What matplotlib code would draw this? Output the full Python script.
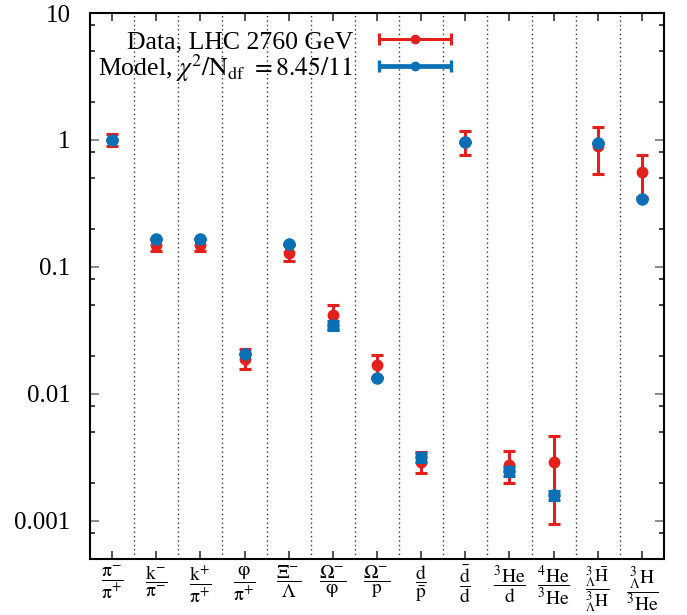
import numpy as np
import matplotlib
matplotlib.use("Agg")
import matplotlib.pyplot as plt
from matplotlib.ticker import FixedLocator, FixedFormatter, NullFormatter
from matplotlib.legend_handler import HandlerErrorbar

plt.rcParams['font.family'] = ['Liberation Serif', 'DejaVu Serif']
plt.rcParams['mathtext.fontset'] = 'stix'

categories = [
    r'$\dfrac{\mathrm{\pi^{-}}}{\mathrm{\pi^{+}}}$',
    r'$\dfrac{\mathrm{k^{-}}}{\mathrm{\pi^{-}}}$',
    r'$\dfrac{\mathrm{k^{+}}}{\mathrm{\pi^{+}}}$',
    r'$\dfrac{\mathrm{\varphi}}{\mathrm{\pi^{+}}}$',
    r'$\dfrac{\mathrm{\Xi^{-}}}{\mathrm{\Lambda}}$',
    r'$\dfrac{\mathrm{\Omega^{-}}}{\mathrm{\varphi}}$',
    r'$\dfrac{\mathrm{\Omega^{-}}}{\mathrm{p}}$',
    r'$\dfrac{\mathrm{d}}{\bar{\mathrm{p}}}$',
    r'$\dfrac{\bar{\mathrm{d}}}{\mathrm{d}}$',
    r'$\dfrac{{}^{3}\mathrm{He}}{\mathrm{d}}$',
    r'$\dfrac{{}^{4}\mathrm{He}}{{}^{3}\mathrm{He}}$',
    r'$\dfrac{{}^{3}_{\Lambda}\bar{\mathrm{H}}}{{}^{3}_{\Lambda}\mathrm{H}}$',
    r'$\dfrac{{}^{3}_{\Lambda}\mathrm{H}}{{}^{3}\mathrm{He}}$',
]

data_val = [1.0, 0.148, 0.148, 0.0189, 0.128, 0.0419, 0.0169, 0.0029, 0.96, 0.00278, 0.0029, 0.896, 0.558]
data_lo = [0.10, 0.015, 0.015, 0.0031, 0.017, 0.0094, 0.0034, 0.00051, 0.20, 0.00079, 0.00195, 0.36, 0.20]
data_hi = [0.11, 0.017, 0.017, 0.0037, 0.020, 0.0087, 0.0033, 0.00056, 0.22, 0.00075, 0.00176, 0.37, 0.20]

model_val = [1.0, 0.165, 0.165, 0.0208, 0.153, 0.0349, 0.01345, 0.00319, 0.97, 0.00246, 0.00159, 0.952, 0.342]
model_err = [0, 0, 0, 0, 0, 0.0028, 0, 0.00026, 0, 0.0002, 0.00013, 0, 0]

yticks = [0.001, 0.01, 0.1, 1, 10]
ytick_labels = ['0.001', '0.01', '0.1', '1', '10']

data_label = 'Data, LHC 2760 GeV'
model_label = r'Model, $\chi^2/\mathrm{N_{df}}$ $=8.45/11$'

red = '#e3201b'
blue = '#0a70b5'

fig = plt.figure(figsize=(6.87, 6.15), dpi=100)
ax = fig.add_axes([90/687, 1-559/615, (664-90)/687, (559-13)/615])

x = np.arange(len(categories))

ax.errorbar(x, data_val, yerr=[data_lo, data_hi], fmt='o', color=red, ms=7.5,
            elinewidth=2.2, capsize=4.5, capthick=2.2, zorder=3)
ax.errorbar(x, model_val, yerr=model_err, fmt='o', color=blue, ms=8.0,
            elinewidth=2.2, capsize=4.3, capthick=2.2, zorder=4)

for b in x[:-1] + 0.5:
    ax.axvline(b, color='#333333', lw=1.0, ls=(0, (1, 2.2)), zorder=1)

ax.set_yscale('log')
ax.set_ylim(10**-3.3, 10)
ax.set_xlim(-0.5, len(categories) - 0.5)

ax.yaxis.set_major_locator(FixedLocator(yticks))
ax.yaxis.set_major_formatter(FixedFormatter(ytick_labels))
minors = [m * 10.0**e for e in range(-4, 1) for m in (2, 5, 8)]
ax.yaxis.set_minor_locator(FixedLocator(minors))
ax.yaxis.set_minor_formatter(NullFormatter())

ax.set_xticks(x)
ax.set_xticklabels(categories)
ax.xaxis.set_minor_locator(FixedLocator([]))

ax.tick_params(axis='both', which='both', direction='in', top=True, right=True)
ax.tick_params(axis='y', which='major', length=6.5, width=1.2, color='#777777',
               labelsize=18, pad=14)
ax.tick_params(axis='y', which='minor', length=3.5, width=1.2, color='#222222')
ax.tick_params(axis='x', which='major', length=6, width=1.2, color='#333333',
               labelsize=14, pad=3.5)
ax.get_xticklabels()[11].set_fontsize(13)
for s in ax.spines.values():
    s.set_linewidth(1.5)

# legend proxies
hd = ax.errorbar([np.nan], [np.nan], xerr=[1], fmt='o', color=red, ms=6.0,
                 elinewidth=2.2, capsize=4.5, capthick=2.2)
hm = ax.errorbar([np.nan], [np.nan], xerr=[1], fmt='o', color=blue, ms=6.0,
                 elinewidth=3.4, capsize=4.5, capthick=2.4)
leg = ax.legend([hd, hm], [data_label, model_label], loc='upper left',
                bbox_to_anchor=(-0.026, 1.011), frameon=False, markerfirst=False,
                fontsize=18.5, handlelength=2.85, handletextpad=1.0,
                labelspacing=-0.05,
                handler_map={type(hd): HandlerErrorbar(xerr_size=1.4)})
for t in leg.get_texts():
    t.set_ha('right')

fig.savefig('out.png', dpi=100)
